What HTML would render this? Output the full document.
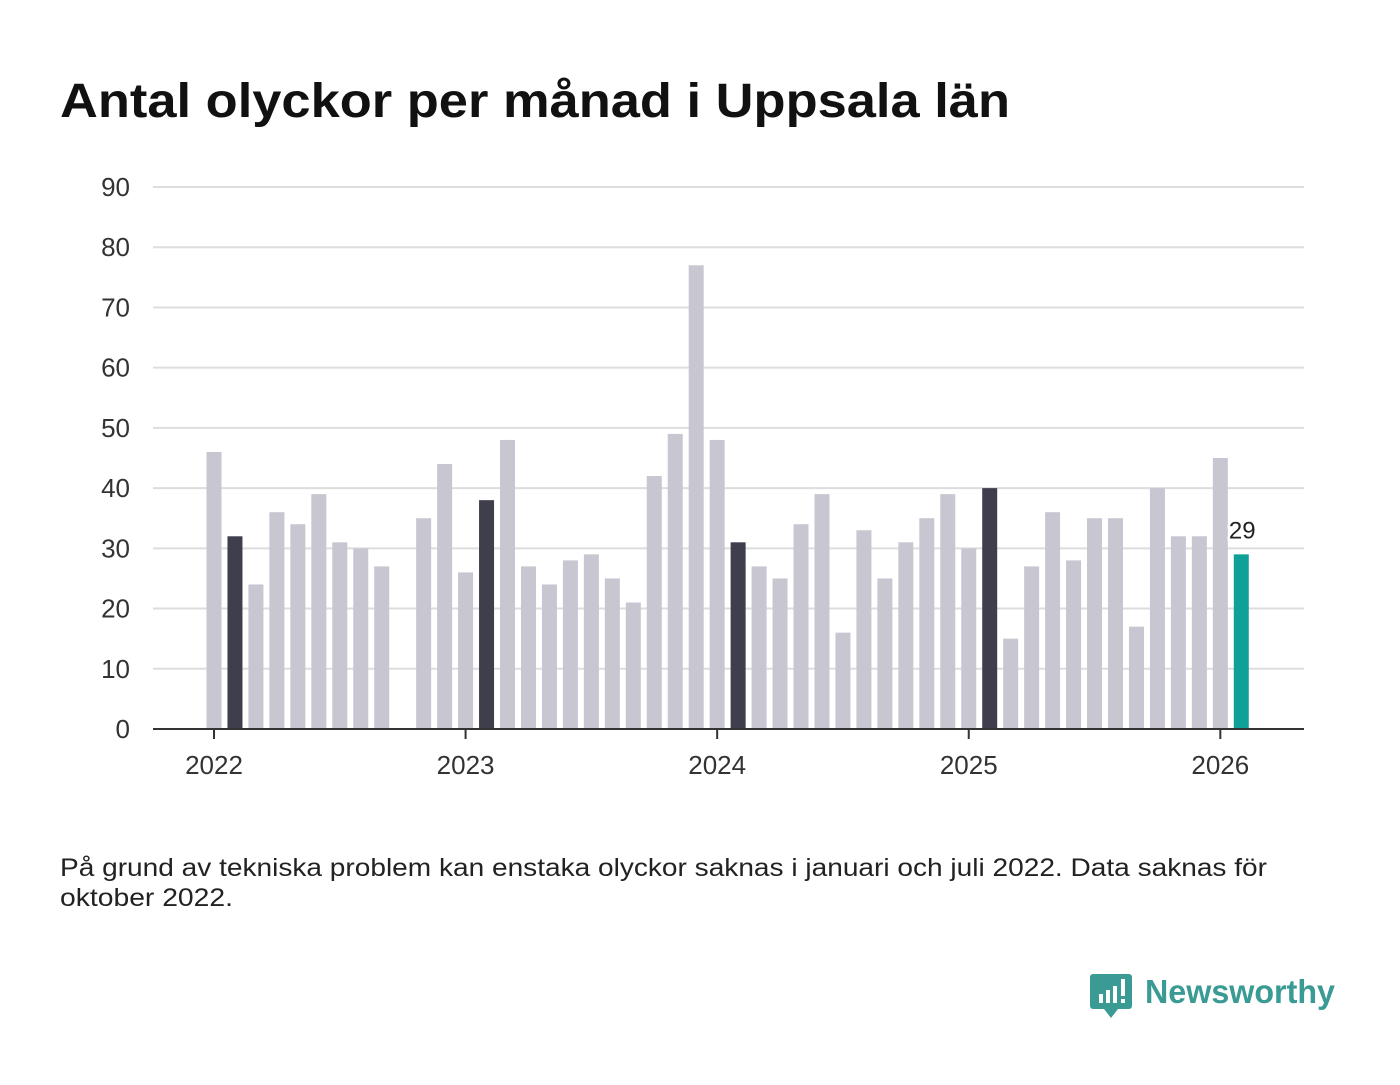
<!DOCTYPE html>
<html><head><meta charset="utf-8"><style>
body{margin:0;width:1400px;height:1080px;background:#fff;font-family:"Liberation Sans",sans-serif;overflow:hidden}
</style></head><body>
<svg width="1400" height="1080" xmlns="http://www.w3.org/2000/svg" id="chart">
<text x="60" y="117" font-size="48" font-weight="bold" fill="#111" textLength="950" lengthAdjust="spacingAndGlyphs">Antal olyckor per månad i Uppsala län</text>
<g id="grid"></g><g id="bars"></g><g id="xaxis"></g>
<text x="60" y="876" font-size="25" fill="#222" textLength="1207" lengthAdjust="spacingAndGlyphs">På grund av tekniska problem kan enstaka olyckor saknas i januari och juli 2022. Data saknas för</text>
<text x="60" y="906" font-size="25" fill="#222" textLength="173" lengthAdjust="spacingAndGlyphs">oktober 2022.</text>
<g>
<path d="M1093 974 h36 a3 3 0 0 1 3 3 v29 a3 3 0 0 1 -3 3 h-11 l-7 9 l-7 -9 h-11 a3 3 0 0 1 -3 -3 v-29 a3 3 0 0 1 3 -3z" fill="#3a9a94"/>
<rect x="1099" y="994" width="4" height="9" fill="#fff"/><rect x="1106" y="990" width="4" height="13" fill="#fff"/><rect x="1113" y="986" width="4" height="17" fill="#fff"/><rect x="1121" y="979" width="4" height="17" fill="#fff"/><rect x="1121" y="999" width="4" height="4" fill="#fff"/>
<text x="1145" y="1003" font-size="33" fill="#3a9a94" font-weight="bold" textLength="190" lengthAdjust="spacingAndGlyphs">Newsworthy</text>
</g>
</svg>
<script>
const years=["2022","2023","2024","2025","2026"];
const values=[46,32,24,36,34,39,31,30,27,null,35,44,26,38,48,27,24,28,29,25,21,42,49,77,48,31,27,25,34,39,16,33,25,31,35,39,30,40,15,27,36,28,35,35,17,40,32,32,45,29];
const yTicks=[0,10,20,30,40,50,60,70,80,90];
const NS="http://www.w3.org/2000/svg";
const y=v=>729-v*(542/90);
const x=i=>214+i*20.965;
function mk(t,a,p){const e=document.createElementNS(NS,t);for(const k in a)e.setAttribute(k,a[k]);p.appendChild(e);return e;}
const g=document.getElementById('grid'),b=document.getElementById('bars'),xa=document.getElementById('xaxis');
yTicks.forEach(t=>{
 if(t>0){const l=mk('line',{x1:153,x2:1304,y1:y(t),y2:y(t),stroke:'#ddd','stroke-width':2},g);
 
 }
 const tx=mk('text',{x:130,y:y(t)+9,'font-size':26,fill:'#333','text-anchor':'end'},g);tx.textContent=t;
 
 
});
values.forEach((v,i)=>{
 if(v==null)return;
 const last=i===values.length-1, feb=i%12===1;
 const r=mk('rect',{x:x(i)-7.5,y:y(v),width:15,height:729-y(v),fill:last?'#0fa197':feb?'#3f3e4c':'#c7c6d1'},b);
 
 
 if(last){const lb=mk('text',{x:x(i)+1,y:y(v)-16,'font-size':24,fill:'#222','text-anchor':'middle',stroke:'#fff','stroke-width':5,'paint-order':'stroke'},b);lb.textContent=v;
 
 }
});
const ax=mk('line',{x1:153,x2:1304,y1:729,y2:729,stroke:'#333','stroke-width':2},xa);


years.forEach((yr,k)=>{
 const px=x(k*12);
 mk('line',{x1:px,x2:px,y1:729,y2:739,stroke:'#333','stroke-width':2},xa);
 const t=mk('text',{x:px,y:774,'font-size':26,fill:'#333','text-anchor':'middle'},xa);t.textContent=yr;
 
 
});
</script>
</body></html>
